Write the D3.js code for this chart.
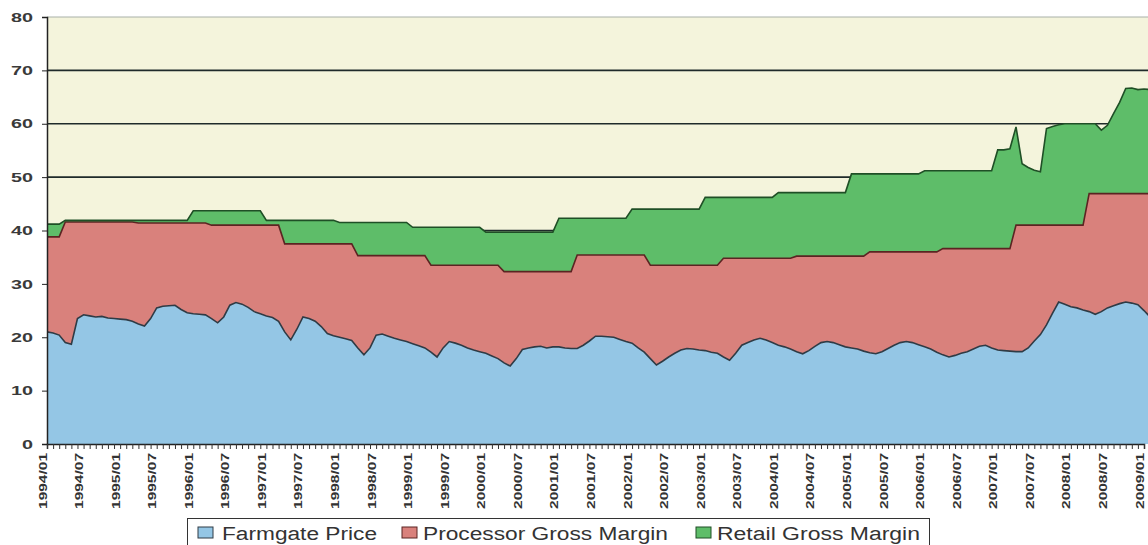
<!DOCTYPE html>
<html><head><meta charset="utf-8">
<script src="https://cdn.jsdelivr.net/npm/d3@7"></script>
<style>body{margin:0;background:#fff;} svg{display:block;font-family:Arial,"Liberation Sans",sans-serif;}</style>
</head><body><svg id="c" width="1148" height="545"></svg>
<script>
const tickLabels = ["1994/01","1994/07","1995/01","1995/07","1996/01","1996/07","1997/01","1997/07","1998/01","1998/07","1999/01","1999/07","2000/01","2000/07","2001/01","2001/07","2002/01","2002/07","2003/01","2003/07","2004/01","2004/07","2005/01","2005/07","2006/01","2006/07","2007/01","2007/07","2008/01","2008/07","2009/01"];
const yTicks = [0,10,20,30,40,50,60,70,80];
const seriesNames = ["Farmgate Price","Processor Gross Margin","Retail Gross Margin"];

const farmgate = [21.0,20.8,20.4,19.0,18.7,23.5,24.2,24.0,23.8,23.9,
23.6,23.5,23.4,23.3,23.0,22.5,22.1,23.5,25.5,25.8,
25.9,26.0,25.2,24.6,24.4,24.3,24.2,23.5,22.7,23.8,
26.0,26.5,26.2,25.6,24.8,24.4,24.0,23.7,23.0,21.0,
19.5,21.5,23.8,23.5,23.0,22.0,20.7,20.3,20.0,19.7,
19.4,18.0,16.7,18.0,20.4,20.6,20.2,19.8,19.5,19.2,
18.8,18.4,18.0,17.2,16.3,18.0,19.2,18.9,18.5,18.0,
17.6,17.3,17.0,16.5,16.0,15.2,14.6,16.0,17.7,18.0,
18.2,18.3,18.0,18.2,18.2,18.0,17.9,17.9,18.5,19.3,
20.2,20.2,20.1,20.0,19.6,19.2,18.9,18.0,17.2,16.0,
14.8,15.5,16.3,17.0,17.6,17.9,17.8,17.6,17.5,17.2,
17.0,16.3,15.7,17.0,18.5,19.0,19.5,19.8,19.5,19.0,
18.5,18.2,17.8,17.3,16.9,17.5,18.3,19.0,19.2,19.0,
18.6,18.2,18.0,17.8,17.4,17.1,16.9,17.3,17.9,18.5,
19.0,19.2,19.0,18.6,18.2,17.8,17.2,16.7,16.3,16.6,
17.0,17.3,17.8,18.3,18.5,18.0,17.6,17.5,17.4,17.3,
17.3,18.0,19.3,20.5,22.3,24.5,26.6,26.2,25.7,25.5,
25.1,24.8,24.3,24.8,25.5,25.9,26.3,26.6,26.4,26.1,
25.0,23.8];

const processor = [17.8,18.0,18.4,22.6,22.9,18.1,17.4,17.6,17.8,17.7,
18.0,18.1,18.2,18.3,18.6,18.9,19.3,17.9,15.9,15.6,
15.5,15.4,16.2,16.8,17.0,17.1,17.2,17.5,18.3,17.2,
15.0,14.5,14.8,15.4,16.2,16.6,17.0,17.3,18.0,16.5,
18.0,16.0,13.7,14.0,14.5,15.5,16.8,17.2,17.5,17.8,
18.1,17.3,18.6,17.3,14.9,14.7,15.1,15.5,15.8,16.1,
16.5,16.9,17.3,16.3,17.2,15.5,14.3,14.6,15.0,15.5,
15.9,16.2,16.5,17.0,17.5,17.1,17.7,16.3,14.6,14.3,
14.1,14.0,14.3,14.1,14.1,14.3,14.4,17.5,16.9,16.1,
15.2,15.2,15.3,15.4,15.8,16.2,16.5,17.4,18.2,17.5,
18.7,18.0,17.2,16.5,15.9,15.6,15.7,15.9,16.0,16.3,
16.5,18.5,19.1,17.8,16.3,15.8,15.3,15.0,15.3,15.8,
16.3,16.6,17.0,17.9,18.3,17.7,16.9,16.2,16.0,16.2,
16.6,17.0,17.2,17.4,17.8,18.9,19.1,18.7,18.1,17.5,
17.0,16.8,17.0,17.4,17.8,18.2,18.8,19.9,20.3,20.0,
19.6,19.3,18.8,18.3,18.1,18.6,19.0,19.1,19.2,23.7,
23.7,23.0,21.7,20.5,18.7,16.5,14.4,14.8,15.3,15.5,
15.9,22.1,22.6,22.1,21.4,21.0,20.6,20.3,20.5,20.8,
21.9,23.1];

const retail = [2.4,2.4,2.4,0.3,0.3,0.3,0.3,0.3,0.3,0.3,
0.3,0.3,0.3,0.3,0.3,0.5,0.5,0.5,0.5,0.5,
0.5,0.5,0.5,0.5,2.3,2.3,2.3,2.7,2.7,2.7,
2.7,2.7,2.7,2.7,2.7,2.7,0.9,0.9,0.9,4.4,
4.4,4.4,4.4,4.4,4.4,4.4,4.4,4.4,4.0,4.0,
4.0,6.2,6.2,6.2,6.2,6.2,6.2,6.2,6.2,6.2,
5.3,5.3,5.3,7.1,7.1,7.1,7.1,7.1,7.1,7.1,
7.1,7.1,6.2,6.2,6.2,7.4,7.4,7.4,7.4,7.4,
7.4,7.4,7.4,7.4,10.0,10.0,10.0,6.9,6.9,6.9,
6.9,6.9,6.9,6.9,6.9,6.9,8.6,8.6,8.6,10.5,
10.5,10.5,10.5,10.5,10.5,10.5,10.5,10.5,12.7,12.7,
12.7,11.4,11.4,11.4,11.4,11.4,11.4,11.4,11.4,11.4,
12.3,12.3,12.3,11.9,11.9,11.9,11.9,11.9,11.9,11.9,
11.9,11.9,15.4,15.4,15.4,14.6,14.6,14.6,14.6,14.6,
14.6,14.6,14.6,14.6,15.2,15.2,15.2,14.6,14.6,14.6,
14.6,14.6,14.6,14.6,14.6,14.6,18.5,18.5,18.7,18.4,
11.5,10.8,10.3,10.0,18.1,18.5,18.8,19.0,19.0,19.0,
19.0,13.1,13.1,11.9,12.8,15.0,17.1,19.7,19.8,19.5,
19.6,19.5];

const fills = ["#94c6e5","#d9817c","#5ebd69"];
const strokes = ["#2f3b45","#5b2422","#1f4f26"];

(function () {
const svg = d3.select("#c");
const W = 1148;
const pLeft = 47, pTop = 17, pBottom = 444;

const months = d3.range(farmgate.length);
const rows = months.map(i => ({m: i, farmgate: farmgate[i], processor: processor[i], retail: retail[i]}));
const keys = ["farmgate","processor","retail"];

const x = d3.scaleLinear().domain([0, 180]).range([pLeft, 1144]);
const y = d3.scaleLinear().domain([0, 80]).range([pBottom, pTop]);

svg.append("defs").append("clipPath").attr("id","clip")
  .append("rect").attr("x", pLeft).attr("y", 0).attr("width", W - pLeft).attr("height", pBottom);

svg.append("rect").attr("x", pLeft).attr("y", pTop).attr("width", W - pLeft).attr("height", pBottom - pTop).attr("fill", "#f4f4dc");

svg.append("g").selectAll("line").data(yTicks.filter(v => v > 0)).join("line")
  .attr("x1", pLeft).attr("x2", W).attr("y1", d => y(d)).attr("y2", d => y(d))
  .attr("stroke", d => d === 80 ? "#a8b0a8" : "#1f2a2a").attr("stroke-width", d => d === 80 ? 1 : 1.6);

const stacked = d3.stack().keys(keys)(rows);
const area = d3.area().x(d => x(d.data.m)).y0(d => y(d[0])).y1(d => y(d[1]));
const topLine = d3.line().x(d => x(d.data.m)).y(d => y(d[1]));

const plot = svg.append("g").attr("clip-path", "url(#clip)");
plot.selectAll("path.area").data(stacked).join("path").attr("class","area")
  .attr("d", area).attr("fill", (d, i) => fills[i]);
plot.selectAll("path.top").data(stacked).join("path").attr("class","top")
  .attr("d", topLine).attr("fill", "none").attr("stroke", (d, i) => strokes[i]).attr("stroke-width", 1.6);

const yAxis = svg.append("g").attr("transform", `translate(${pLeft},0)`)
  .call(d3.axisLeft(y).tickValues(yTicks).tickSize(5).tickPadding(9));
yAxis.select(".domain").attr("stroke", "#222").attr("stroke-width", 1.5);
yAxis.selectAll(".tick line").attr("stroke", "#222");
yAxis.selectAll(".tick text").attr("fill", "#3a3a3a").attr("font-size", 13).attr("font-weight", "bold")
  .attr("font-family", "Arial, 'Liberation Sans', sans-serif")
  .attr("textLength", d => String(d).length * 11).attr("lengthAdjust", "spacingAndGlyphs");

const xAxis = svg.append("g").attr("transform", `translate(0,${pBottom})`)
  .call(d3.axisBottom(x).tickValues(months.filter(m => x(m) <= W)).tickSize(5).tickFormat(""));
xAxis.select(".domain").attr("stroke", "#222").attr("stroke-width", 1.5);
xAxis.selectAll(".tick line").attr("stroke", "#333").attr("stroke-width", 1);

svg.append("g").selectAll("text").data(tickLabels).join("text")
  .attr("transform", (d, i) => `translate(${x(i * 6) - 0.5},453) rotate(-90)`)
  .attr("text-anchor", "end")
  .attr("font-size", 10).attr("font-weight", "bold").attr("fill", "#333")
  .attr("textLength", 56).attr("lengthAdjust", "spacingAndGlyphs")
  .text(d => d);

const lg = svg.append("g");
lg.append("rect").attr("x", 187.5).attr("y", 518.5).attr("width", 742).attr("height", 40)
  .attr("fill", "#fff").attr("stroke", "#333").attr("stroke-width", 1);
const legItems = [
  {sx: 198, tx: 222, w: 155},
  {sx: 402, tx: 423, w: 245},
  {sx: 696, tx: 717, w: 203}
];
legItems.forEach((it, i) => {
  lg.append("rect").attr("x", it.sx).attr("y", 527).attr("width", 15).attr("height", 11)
    .attr("fill", fills[i]).attr("stroke", strokes[i]).attr("stroke-width", 1);
  lg.append("text").attr("x", it.tx).attr("y", 540).attr("font-size", 18).attr("fill", "#333")
    .attr("textLength", it.w).attr("lengthAdjust", "spacingAndGlyphs").text(seriesNames[i]);
});
})();
</script></body></html>
